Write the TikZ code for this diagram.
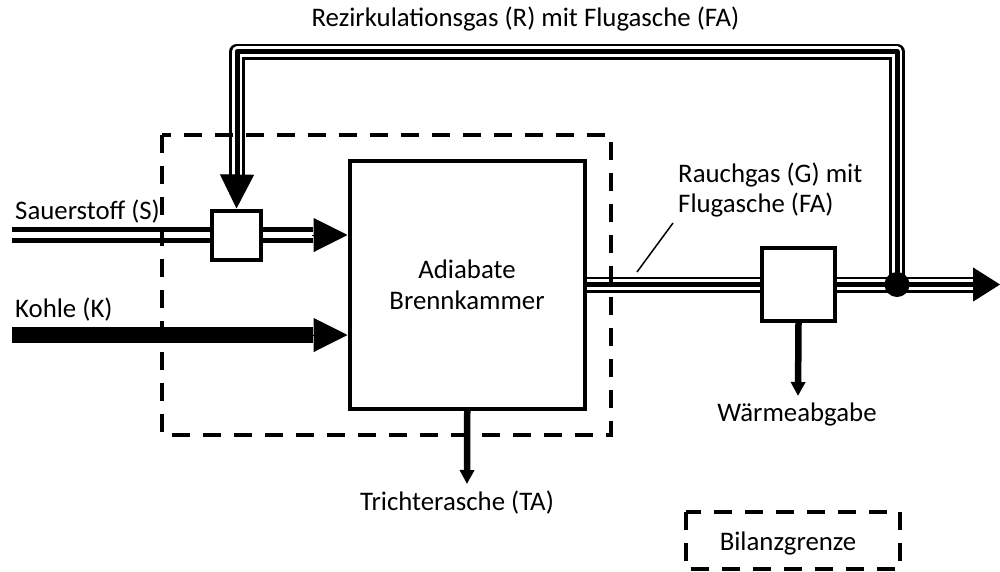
\documentclass[tikz,border=0pt]{standalone}
\usepackage{fontspec}
\setmainfont{Carlito}
\usetikzlibrary{arrows.meta}
\begin{document}
\begin{tikzpicture}[x=1pt,y=-1pt,
  lbl/.style={inner sep=0pt,font=\fontsize{26.8}{32}\selectfont},
  boxst/.style={draw,line width=4pt,fill=white,minimum width=#1,minimum height=#1,inner sep=0pt},
  gasflow/.style={line width=5pt,double=white,double distance=6.5pt},
  ashflow/.style={line width=5pt,line join=round,
    preaction={draw,line width=16pt,line join=round},
    preaction={draw=white,line width=10.5pt,line join=round}},
  bigtip/.style={line width=1pt,-{Triangle[length=34pt,width=34pt]}},
  endtip/.style={line width=1pt,-{Triangle[length=27pt,width=34pt]}},
  smalltip/.style={line width=6.5pt,-{Triangle[length=14pt,width=14pt]}},
  boundary/.style={draw,line width=4pt,dash pattern=on 18pt off 13pt}
]
\useasboundingbox (0,0) rectangle (1000,571);

% nodes
\node[boxst=0pt,minimum width=235.5pt,minimum height=248.5pt] (bk) at (467.25,284.75) {};
\node[boxst=49pt] (mix) at (236.5,235) {};
\node[boxst=73pt] (hx) at (798.5,284.5) {};
\coordinate (sin) at (12,235);
\coordinate (kin) at (12,335);
\coordinate (sbase) at (313,235);
\coordinate (kbase) at (313,335);
\coordinate (junc) at (897,284.5);
\coordinate (gbase) at (973,284.5);
\coordinate (gtip) at (1000,284.5);
\coordinate (rc1) at (897,51.5);
\coordinate (rc2) at (237,51.5);
\coordinate (rcb) at (237,175);
\coordinate (wtip) at (798,396);
\coordinate (ttip) at (467,484);
\coordinate (ldA) at (637,272);
\coordinate (ldB) at (673,223);

% flows
\draw[gasflow] (sin) -- (mix.west);
\draw[gasflow] (mix.east) -- (sbase);
\draw[bigtip] ([xshift=-1pt]sbase) -- (sbase -| bk.west);
\draw[line width=16pt] (kin) -- (kbase);
\draw[bigtip] ([xshift=-1pt]kbase) -- (kbase -| bk.west);

\draw[ashflow] (bk.east |- hx.west) -- (hx.west);
\draw[ashflow] (hx.east) -- (gbase);
\draw[ashflow] (junc) -- (rc1) -- (rc2) -- (rcb);
\draw[bigtip] ([yshift=-1pt]rcb) -- (mix.north);
\draw[endtip] ([xshift=-1pt]gbase) -- (gtip);
\fill (junc) circle[radius=12.5pt];

\draw[smalltip] (hx.south) -- (wtip);
\draw[smalltip] (bk.south) -- (ttip);
\draw[line width=1.5pt] (ldA) -- (ldB);

% boxes on top of flows
\node[boxst=0pt,minimum width=235.5pt,minimum height=248.5pt] at (bk) {};
\node[boxst=49pt] at (mix) {};
\node[boxst=73pt] at (hx) {};

% balance boundary
\path[boundary] (161.5,135) rectangle (610.5,434.5);
\path[boundary] (685.5,512) rectangle (899.5,569);

% labels
\node[lbl,anchor=base] (trez) at (525.5,26) {Rezirkulationsgas (R) mit Flugasche (FA)};
\node[lbl,anchor=base west] (tsau) at (15,219) {Sauerstoff (S)};
\node[lbl,anchor=base west] (tkoh) at (15,317) {Kohle (K)};
\node[lbl,anchor=base] (tad) at (467,278) {Adiabate};
\node[lbl,anchor=base] (tbr) at (467,309) {Brennkammer};
\node[lbl,anchor=base west] (trg1) at (678,182) {Rauchgas (G) mit};
\node[lbl,anchor=base west] (trg2) at (678,212) {Flugasche (FA)};
\node[lbl,anchor=base] (twa) at (797,421) {Wärmeabgabe};
\node[lbl,anchor=base] (tta) at (457,510) {Trichterasche (TA)};
\node[lbl,anchor=base] (tbi) at (788,550) {Bilanzgrenze};
\end{tikzpicture}
\end{document}
